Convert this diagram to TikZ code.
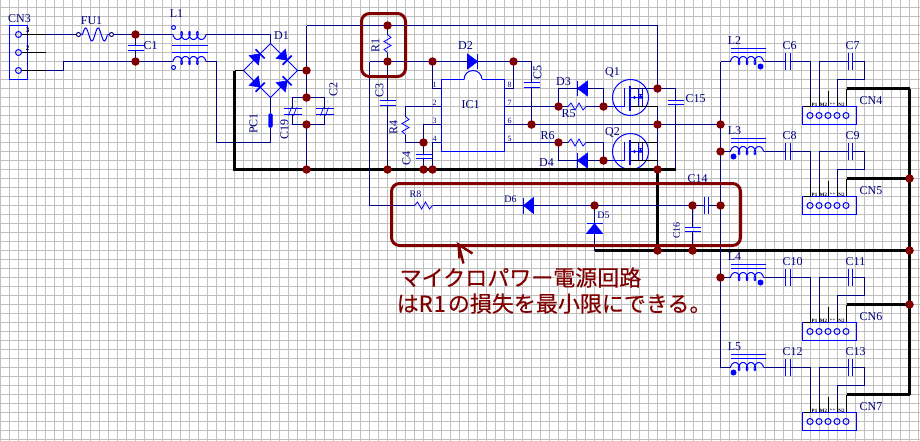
\documentclass[tikz,border=0pt]{standalone}
\usepackage{fontspec}
\setmainfont{Liberation Serif}
\newfontfamily\cjk[FakeBold=0.3]{Noto Sans CJK JP}
\usetikzlibrary{calc}
\definecolor{navyw}{HTML}{000080}
\definecolor{compb}{HTML}{0000FF}
\definecolor{maroonj}{HTML}{800000}
\definecolor{gridc}{HTML}{C0C0C0}
\tikzset{
  wire/.style={draw=navyw,line width=1pt},
  bwire/.style={draw=black,line width=1pt},
  thick wire/.style={draw=black,line width=3pt,line join=miter},
  comp/.style={draw=compb,line width=1pt},
  compfill/.style={fill=compb,draw=compb,line width=0.6pt},
  compnode/.style={inner sep=0pt,outer sep=0pt,minimum size=0pt},
  jdot/.style={circle,fill=maroonj,inner sep=0pt,minimum size=8.5pt},
  lbl/.style={text=navyw,inner sep=0pt,font=\fontsize{12}{12}\selectfont},
  smalllbl/.style={text=navyw,inner sep=0pt,font=\fontsize{10}{10}\selectfont},
  pinl/.style={text=navyw,inner sep=0pt,font=\fontsize{8}{8}\selectfont},
  tinyl/.style={text=black,inner sep=0pt,font=\bfseries\fontsize{5}{5}\selectfont},
  cnnum/.style={text=black,inner sep=0pt,font=\bfseries\fontsize{7}{7}\selectfont},
  frame/.style={draw=maroonj,line width=3pt,rounded corners=8pt},
  jptext/.style={text=maroonj,inner sep=0pt,anchor=west,font=\cjk\fontsize{22}{22}\selectfont},
}
% capacitor with horizontal plates (vertical wire)
\newcommand{\capH}[3]{\node[compnode,minimum width=16pt,minimum height=4.2pt] (#1) at (#2,#3) {};
  \draw[comp] (#1.north west)--(#1.north east) (#1.south west)--(#1.south east);}
% capacitor with vertical plates (horizontal wire)
\newcommand{\capV}[3]{\node[compnode,minimum width=4.2pt,minimum height=17pt] (#1) at (#2,#3) {};
  \draw[comp] (#1.north west)--(#1.south west) (#1.north east)--(#1.south east);}
% resistor: name, x, y, rotation
\newcommand{\resi}[4]{\node[compnode,rotate=#4,minimum width=18pt,minimum height=8pt] (#1) at (#2,#3) {};
  \begin{scope}[shift={(#2,#3)},rotate=#4]
  \draw[comp,line width=0.8pt] (-9,0)--(-6,-3.5)--(-2,3.5)--(2,-3.5)--(6,3.5)--(9,0);
  \end{scope}}
% diode: name, x, y, rotation, half length, half width
\newcommand{\diod}[6]{\node[compnode,rotate=#4,minimum width=2*#5 pt,minimum height=2*#6 pt] (#1) at (#2,#3) {};
  \begin{scope}[shift={(#2,#3)},rotate=#4]
  \fill[compfill] (-#5,-#6)--(#5,0)--(-#5,#6)--cycle;
  \draw[comp,line width=1.6pt] (#5,-#6)--(#5,#6);
  \end{scope}}
% coil: name, x, y, sign
\newcommand{\coilP}[4]{\node[compnode,minimum width=33pt,minimum height=8pt] (#1) at (#2,#3) {};
  \begin{scope}[shift={(#2,#3)}]
  \draw[comp,smooth,samples=90,domain=1.318:23.815,variable=\t]
    plot ({-16.5+1.26*(\t-1.318)+2.4*(0.968-sin(\t r))},{#4*(-1+4*cos(\t r))});
  \end{scope}}
% MOSFET: name, x, y
\newcommand{\mosf}[3]{\node[circle,draw=compb,line width=1pt,inner sep=0pt,minimum size=36pt] (#1) at (#2,#3) {};
  \begin{scope}[shift={(#2,#3)}]
  \coordinate (#1g) at (-18,9);
  \coordinate (#1d) at (0,-9);
  \coordinate (#1s) at (0,9);
  \draw[comp] (-6,-10)--(-6,9);
  \draw[comp] (-18,9)--(-6,9);
  \draw[comp,line width=2pt] (-1,-12)--(-1,13);
  \draw[comp] (-1,0)--(10,0);
  \fill[compb] (4,0) circle (1.6);
  \draw[comp] (8,-9)--(8,9) (12,-9)--(12,9);
  \fill[compb] (10,-3)--(7.5,1)--(12.5,1)--cycle;
  \draw[comp] (7.5,-3)--(12.5,-3);
  \end{scope}}
% output channel: L, Ca, Cb, CN, y, dot x
\newcommand{\channel}[6]{%
  \begin{scope}[shift={(0,#5)}]
  \coordinate (#1a) at (720,0);
  \coilP{#1}{746.5}{0}{1}
  \draw[comp] (730,-13)--(765,-13) (730,-9)--(765,-9);
  \fill[compb] (#6,5) circle (3);
  \node[lbl] (#1t) at (734,-21) {#1};
  \capV{#2}{787.5}{0}
  \capV{#3}{850}{0}
  \node[lbl,anchor=west] (#2t) at (782,-16) {#2};
  \node[lbl,anchor=west] (#3t) at (845,-16) {#3};
  \node[draw=compb,line width=1pt,inner sep=0pt,minimum width=53.5pt,minimum height=18pt] (#4) at (828.75,54) {};
  \foreach \px in {809,818,827,836,845} \draw[comp] (\px.5,54) circle (3);
  \node[lbl,anchor=west] (#4t) at (859,39) {#4};
  \coordinate (#4p1) at (810,45);
  \coordinate (#4p2) at (819,45);
  \coordinate (#4p3) at (828,45);
  \coordinate (#4p4) at (837,45);
  \coordinate (#4p5) at (846,45);
  \coordinate (#4e3) at (828,29);
  \coordinate (#4e5) at (846,27);
  \coordinate (#4r) at (909,27);
  \coordinate (#4c1) at (810,0);
  \coordinate (#4c2) at (819,0);
  \coordinate (#4c3) at (864,0);
  \coordinate (#4c4) at (864,18);
  \coordinate (#4c5) at (837,18);
  \draw[wire] (#1a) -- (#1.west);
  \draw[wire] (#1.east) -- (#2.west);
  \draw[wire] (#2.east) -- (#4c1) -- (#4p1);
  \draw[wire] (#4p2) -- (#4c2) -- (#3.west);
  \draw[wire] (#3.east) -- (#4c3) -- (#4c4) -- (#4c5) -- (#4p4);
  \draw[bwire] (#4e3) -- (#4p3);
  \draw[bwire] (#4e5) -- (#4p5);
  \draw[bwire] (810,33) -- (#4p1) (819,33) -- (#4p2) (837,33) -- (#4p4);
  \draw[thick wire] (#4e5) -- (#4r);
  \draw[bwire] (803,44.5) -- (809,44.5);
  \node[tinyl] (#4a) at (814,43) {P1};
  \node[tinyl] (#4b) at (823,43) {M2};
  \node[tinyl] (#4c) at (832,43) {++};
  \node[tinyl] (#4d) at (841,43) {N2};
  \end{scope}}
\begin{document}
\begin{tikzpicture}[x=1pt,y=-1pt]
\useasboundingbox (0,0) rectangle (920,440);
\fill[white] (0,0) rectangle (920,440);
\begin{scope}[shift={(0.5,0.5)}]
\foreach \gx in {0,9,...,918} \draw[gridc,line width=1pt] (\gx,-1)--(\gx,440);
\foreach \gy in {7,16,...,439} \draw[gridc,line width=1pt] (-1,\gy)--(920,\gy);

% junctions
\foreach \jn/\jx/\jy in {jFu/135/34,jCb/135/61,jBr/306/70,jCt/306/97,jCu/306/124,jGa/306/169,
  jRt/387/25,jRb/387/61,jIa/432/61,jDb/513/61,jGb/387/169,jCf/423/142,jGc/423/169,jGd/432/169,
  jCg/531/124,jQd/657/88,jQm/657/124,jQg/657/169,jSe/558/106,jDr/603/106,jFi/558/142,jDs/603/160,
  jOu/720/124,jLt/720/151,jCn/720/205,jLf/720/277,jDf/594/205,jCs/692/205,jTa/657/250,jTb/692/250,
  jMa/909/178,jMb/909/250,jMc/909/304}
  \coordinate (\jn) at (\jx,\jy);

% CN3
\node[draw=compb,line width=1pt,inner sep=0pt,minimum width=18pt,minimum height=54pt] (CN3) at (18,52) {};
\foreach \pn/\py in {a/34,b/52,c/70} {
  \node[circle,draw=compb,line width=1pt,inner sep=0pt,minimum size=6pt] (pin\pn) at (18,\py) {};
}
\node[lbl] (CN3t) at (19,18) {CN3};
\node[cnnum] (n3) at (27,30) {3};
\node[cnnum] (n2) at (27,48) {2};
\node[cnnum] (n1) at (27,64) {.};
\coordinate (sa) at (45,34); \coordinate (sb) at (45,52); \coordinate (sc) at (45,70);
\coordinate (kn1) at (63,70); \coordinate (kn2) at (63,61);
\draw[bwire] (pina) -- (sa);
\draw[bwire] (pinb) -- (sb);
\draw[bwire] (pinc) -- (sc);

% FU1
\node[compnode,minimum width=33pt,minimum height=14pt] (FU1) at (94.5,34) {};
\draw[comp,smooth,samples=40,domain=-12.5:12.5,variable=\t] plot ({94.5+\t},{34-6.5*sin(\t*28.8)});
\node[circle,draw=navyw,fill=white,line width=1pt,inner sep=0pt,minimum size=4pt] (fa) at (78,34) {};
\node[circle,draw=navyw,fill=white,line width=1pt,inner sep=0pt,minimum size=4pt] (fb) at (111,34) {};
\node[lbl] (FU1t) at (91,20) {FU1};
\draw[comp] (fa) -- (82,34) (107,34) -- (fb);
\draw[wire] (sa) -- (fa);
\draw[wire] (fb) -- (jFu);
\draw[wire] (sc) -- (kn1) -- (kn2) -- (jCb);

% C1
\capH{C1}{135}{47.5}
\node[lbl] (C1t) at (150,45) {C1};
\draw[wire] (jFu) -- (C1.north);
\draw[wire] (C1.south) -- (jCb);

% L1
\coilP{L1a}{189}{34}{-1}
\coilP{L1b}{189}{61}{1}
\draw[comp] (171,45)--(207,45) (171,52)--(207,52);
\node[circle,draw=compb,line width=1pt,inner sep=0pt,minimum size=4pt] (doa) at (173,27) {};
\node[circle,draw=compb,line width=1pt,inner sep=0pt,minimum size=4pt] (dob) at (173,67) {};
\node[lbl] (L1t) at (176,13) {L1};
\draw[wire] (jFu) -- (L1a.west);
\draw[wire] (jCb) -- (L1b.west);

% D1 bridge
\coordinate (D1n) at (270,43); \coordinate (D1w) at (243,70); \coordinate (D1e) at (297,70); \coordinate (D1s) at (270,97);
\draw[comp] (D1n)--(D1e)--(D1s)--(D1w)--cycle;
\diod{D1a}{256.5}{56.5}{45}{4.5}{6.5}
\diod{D1b}{283.5}{56.5}{-45}{4.5}{6.5}
\diod{D1c}{256.5}{83.5}{-45}{4.5}{6.5}
\diod{D1d}{283.5}{83.5}{45}{4.5}{6.5}
\node[lbl] (D1t) at (281,35) {D1};
\coordinate (cna) at (270,34);
\draw[wire] (L1a.east) -- (cna) -- (D1n);
\draw[wire] (D1e) -- (jBr);

% PC1
\node[draw=compb,fill=compb,rounded corners=1.5pt,inner sep=0pt,minimum width=4pt,minimum height=14pt] (PC1) at (270,120) {};
\node[lbl,rotate=90] (PC1t) at (253,123) {PC1};
\coordinate (pca) at (270,142); \coordinate (pcb) at (216,142); \coordinate (pcc) at (216,61);
\draw[wire] (D1s) -- (PC1.north);
\draw[wire] (PC1.south) -- (pca) -- (pcb) -- (pcc) -- (L1b.east);

% C19, C2
\foreach \cn/\cx in {CA/292,CB/324} {
  \node[compnode,minimum width=18pt,minimum height=5.6pt] (\cn) at (\cx,111) {};
  \draw[comp] (\cn.north west)--(\cn.north east) (\cn.south west)--(\cn.south east);
  \draw[comp,line width=0.7pt] ($(\cn)+(-4,4)$)--($(\cn)+(-1,-4)$) ($(\cn)+(1,4)$)--($(\cn)+(4,-4)$);
  \node[text=gridc,inner sep=0pt,font=\fontsize{7}{7}\selectfont] (\cn p) at ($(\cn)+(3,-9)$) {+};
  \coordinate (\cn u) at (\cx,97);
  \coordinate (\cn d) at (\cx,124);
  \draw[wire] (jCt) -- (\cn u) -- (\cn.north);
  \draw[wire] (\cn.south) -- (\cn d) -- (jCu);
}
\node[lbl,rotate=90] (C19t) at (284,129) {C19};
\node[lbl,rotate=90] (C2t) at (333,89) {C2};
\coordinate (tla) at (306,25); \coordinate (tlb) at (657,25);
\draw[wire] (tla) -- (jBr) -- (jCt);
\draw[wire] (jCu) -- (jGa);
\draw[wire] (tla) -- (jRt) -- (tlb) -- (jQd);

% R1, C3
\resi{R1}{387}{43}{90}
\node[lbl,rotate=90] (R1t) at (375,45) {R1};
\draw[wire] (jRt) -- (R1.east);
\draw[wire] (R1.west) -- (jRb);
\capH{C3}{387}{102.5}
\node[lbl,rotate=90] (C3t) at (379,90) {C3};
\draw[wire] (jRb) -- (C3.north);
\draw[wire] (C3.south) -- (jGb);

% D2, C5
\diod{D2}{472}{61}{0}{5}{7.5}
\node[lbl] (D2t) at (465,45) {D2};
\coordinate (cfa) at (531,61); \coordinate (ala) at (369,61); \coordinate (alb) at (369,205);
\draw[wire] (ala) -- (jRb) -- (jIa) -- (D2.west);
\draw[wire] (D2.east) -- (jDb) -- (cfa);
\capH{C5}{531}{84.5}
\node[lbl,rotate=90] (C5t) at (537,72) {C5};
\draw[wire] (cfa) -- (C5.north);
\draw[wire] (C5.south) -- (jCg);

% IC1
\node[draw=compb,line width=1pt,inner sep=0pt,minimum width=63pt,minimum height=72pt] (IC1) at (472.5,115) {};
\draw[comp,fill=white] (463.5,79) arc[start angle=180,end angle=360,radius=9];
\draw[white,line width=1.2pt] (464,79)--(481,79);
\node[lbl] (IC1t) at (470,104) {IC1};
\foreach \pnm/\ppx/\ppy in {1/434/84,2/434/102,3/434/120,4/434/138,8/509/84,7/509/102,6/509/120,5/509/138}
  \node[pinl] (pt\pnm) at (\ppx,\ppy) {\pnm};
\coordinate (pa) at (441,88); \coordinate (pb) at (441,106); \coordinate (pc) at (441,124); \coordinate (pd) at (441,142);
\coordinate (pe) at (504,142); \coordinate (pf) at (504,124); \coordinate (pg) at (504,106); \coordinate (ph) at (504,88);
\coordinate (qa) at (432,88); \coordinate (qb) at (405,106); \coordinate (qc) at (423,124); \coordinate (qd) at (432,142);
\coordinate (qe) at (405,142); \coordinate (qh) at (513,88);
\draw[wire] (jIa) -- (qa) -- (pa);
\resi{R4}{405}{125}{90}
\node[lbl,rotate=90] (R4t) at (393,127) {R4};
\draw[wire] (pb) -- (qb) -- (R4.east);
\draw[wire] (R4.west) -- (qe) -- (jCf);
\draw[wire] (pc) -- (qc) -- (jCf);
\draw[wire] (pd) -- (qd) -- (jGd);
\capH{C4}{423}{156}
\node[lbl,rotate=90] (C4t) at (406,158) {C4};
\draw[wire] (jCf) -- (C4.north);
\draw[wire] (C4.south) -- (jGc);
\draw[wire] (jDb) -- (qh) -- (ph);

% right pins
\draw[wire] (pg) -- (jSe);
\draw[wire] (pf) -- (jCg) -- (jQm) -- (jOu);
\draw[wire] (pe) -- (jFi);

% D3 R5 D4 R6
\diod{D3}{582}{88}{180}{5}{7.5}
\node[lbl] (D3t) at (563,81) {D3};
\resi{R5}{576.5}{106}{0}
\node[lbl] (R5t) at (568,113) {R5};
\coordinate (dca) at (558,88); \coordinate (dcb) at (603,88);
\draw[wire] (jSe) -- (R5.west);
\draw[wire] (R5.east) -- (jDr);
\draw[wire] (jSe) -- (dca) -- (D3.east);
\draw[wire] (D3.west) -- (dcb) -- (jDr);
\diod{D4}{582}{160}{180}{5}{7.5}
\node[lbl] (D4t) at (546,162) {D4};
\resi{R6}{576.5}{142}{0}
\node[lbl] (R6t) at (547,135) {R6};
\coordinate (dcc) at (558,160); \coordinate (dcd) at (603,142);
\draw[wire] (jFi) -- (R6.west);
\draw[wire] (R6.east) -- (dcd) -- (jDs);
\draw[wire] (jFi) -- (dcc) -- (D4.east);
\draw[wire] (D4.west) -- (jDs);

% Q1 Q2
\mosf{Qa}{630}{97}
\mosf{Qb}{630}{151}
\node[lbl] (Q1t) at (612,72) {Q1};
\node[lbl] (Q2t) at (612,132) {Q2};
\coordinate (qsa) at (657,106); \coordinate (qsb) at (657,142); \coordinate (qsc) at (657,160);
\draw[wire] (jDr) -- (Qag);
\draw[wire] (jDs) -- (Qbg);
\draw[wire] (Qad) -- (jQd);
\draw[bwire] (Qas) -- (qsa);
\draw[wire] (qsa) -- (jQm) -- (qsb) -- (qsc) -- (jQg);
\draw[bwire] (Qbd) -- (qsb);
\draw[bwire] (Qbs) -- (qsc);

% C15
\capH{C15}{675}{102}
\node[lbl] (C15t) at (695,98) {C15};
\coordinate (cqa) at (675,88); \coordinate (cqb) at (675,169);
\draw[wire] (jQd) -- (cqa) -- (C15.north);
\draw[wire] (C15.south) -- (cqb);

% thick grounds
\coordinate (gnda) at (234,70); \coordinate (gndb) at (234,169);
\coordinate (gndc) at (594,250);
\draw[bwire] (D1w) -- (gnda);
\draw[thick wire] (gnda) -- (gndb) -- (cqb);
\draw[thick wire] (jQg) -- (jTa);
\draw[thick wire] (gndc) -- (jTa) -- (jTb) -- (jMb);

% R8 D6 D5 C14 C16
\resi{R8}{423}{205}{0}
\node[smalllbl] (R8t) at (415,194) {R8};
\diod{D6}{528}{205}{180}{5}{8}
\node[smalllbl] (D6t) at (510,199) {D6};
\draw[wire] (ala) -- (alb) -- (R8.west);
\draw[wire] (R8.east) -- (D6.east);
\draw[wire] (D6.west) -- (jDf) -- (jCs);
\diod{D5}{594}{228}{90}{5}{8}
\node[smalllbl] (D5t) at (603,215) {D5};
\draw[wire] (jDf) -- (D5.east);
\draw[wire] (D5.west) -- (gndc);
\capV{C14}{706}{205}
\node[lbl] (C14t) at (697,178) {C14};
\draw[wire] (jCs) -- (C14.west);
\draw[wire] (C14.east) -- (jCn);
\capH{C16}{692}{229}
\node[smalllbl,rotate=90] (C16t) at (676,230) {C16};
\draw[wire] (jCs) -- (C16.north);
\draw[wire] (C16.south) -- (jTb);

% output channels
\channel{L2}{C6}{C7}{CN4}{61}{760}
\channel{L3}{C8}{C9}{CN5}{151}{733}
\channel{L4}{C10}{C11}{CN6}{277}{760}
\channel{L5}{C12}{C13}{CN7}{367}{733}
\draw[wire] (L2a) -- (jOu) -- (jLt) -- (jCn) -- (jLf) -- (L5a);
\draw[thick wire] (CN4r) -- (jMa) -- (jMb) -- (jMc) -- (CN7r);

% junction dots
\foreach \jn in {jFu,jCb,jBr,jCt,jCu,jGa,jRt,jRb,jIa,jDb,jGb,jCf,jGc,jGd,jCg,jQd,jQm,jQg,jSe,jDr,jFi,jDs,jOu,jLt,jCn,jLf,jDf,jCs,jTa,jTb,jMa,jMb,jMc}
  \node[jdot] (dot\jn) at (\jn) {};

% annotations
\draw[frame] (361,13) rectangle (405,76);
\draw[frame] (391,183) rectangle (740,245);
\node[compnode] (tip) at (458,244) {};
\coordinate (hd) at (463,263); \coordinate (hl) at (459,258); \coordinate (hr) at (472,253);
\draw[draw=maroonj,line width=2.4pt] (hd) -- (tip.center) -- (hr);
\draw[draw=maroonj,line width=2.4pt] (tip.center) -- (hl);
\node[jptext] (noteA) at (399,277) {マイクロパワー電源回路};
\node[jptext] (noteB) at (396,303) {はR\kern1pt 1\kern2pt の損失を最小限にできる。};
\end{scope}
\end{tikzpicture}
\end{document}
